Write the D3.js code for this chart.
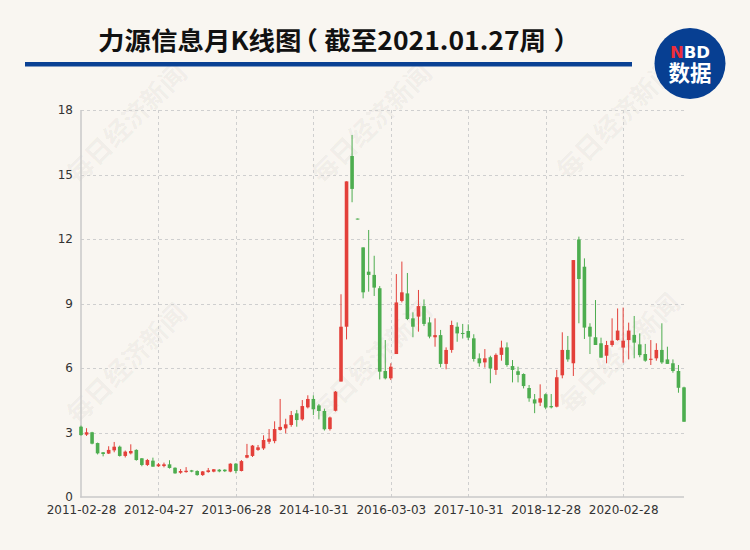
<!DOCTYPE html>
<html><head><meta charset="utf-8">
<script src="https://cdn.jsdelivr.net/npm/d3@7"></script>
<style>
html,body{margin:0;padding:0;background:#f9f6f1;}
svg{display:block;}
.halt{font-feature-settings:"halt" 1;}
</style>
</head><body>
<svg id="chart" width="750" height="550"></svg>
<script>
const dates = [
"2011-02-28","2011-03-31","2011-04-29","2011-05-31","2011-06-30","2011-07-29","2011-08-31","2011-09-30","2011-10-31","2011-11-30","2011-12-30",
"2012-01-31","2012-02-29","2012-03-30","2012-04-27","2012-05-31","2012-06-29","2012-07-31","2012-08-31","2012-09-28","2012-10-31","2012-11-30","2012-12-31",
"2013-01-31","2013-02-28","2013-03-29","2013-04-26","2013-05-31","2013-06-28","2013-07-31","2013-08-30","2013-09-30","2013-10-31","2013-11-29","2013-12-31",
"2014-01-30","2014-02-28","2014-03-31","2014-06-30","2014-07-31","2014-08-29","2014-09-30","2014-10-31","2014-11-28","2014-12-31",
"2015-01-30","2015-02-27","2015-03-31","2015-04-30","2015-05-29","2015-06-05","2015-10-30","2015-11-30","2015-12-31",
"2016-01-29","2016-02-29","2016-03-03","2016-09-30","2016-10-31","2016-11-30","2016-12-30",
"2017-01-26","2017-02-28","2017-03-31","2017-04-28","2017-05-31","2017-06-30","2017-07-31","2017-08-31","2017-09-29","2017-10-31","2017-11-30","2017-12-29",
"2018-01-31","2018-02-28","2018-03-30","2018-04-27","2018-05-31","2018-06-29","2018-07-31","2018-08-31","2018-09-28","2018-10-31","2018-11-30","2018-12-28",
"2019-01-31","2019-02-28","2019-03-29","2019-04-30","2019-05-31","2019-06-28","2019-07-31","2019-08-30","2019-09-30","2019-10-31","2019-11-29","2019-12-31",
"2020-01-23","2020-02-28","2020-03-31","2020-04-30","2020-05-29","2020-06-30","2020-07-31","2020-08-31","2020-09-30","2020-10-30","2020-11-30","2020-12-31","2021-01-27"];

const openP = [3.27,2.90,3.01,2.51,2.08,2.02,2.17,2.34,1.91,2.03,2.19,1.80,1.49,1.69,1.43,1.44,1.52,1.36,1.13,1.16,
1.24,1.21,1.02,1.16,1.18,1.27,1.27,1.18,1.55,1.21,1.83,1.91,2.19,2.26,2.57,2.60,3.12,3.19,3.35,3.89,
3.61,4.17,4.56,4.26,4.00,3.16,4.01,5.37,7.92,15.86,12.95,11.61,10.48,10.33,9.71,5.86,5.52,6.65,9.12,9.47,
8.31,8.39,8.88,8.12,7.43,7.53,6.19,6.84,7.92,7.63,7.72,7.38,6.45,6.26,6.50,5.91,6.61,6.96,6.09,5.85,
5.72,5.07,4.54,4.39,4.78,4.23,4.20,5.66,6.84,6.22,11.98,10.71,7.92,7.43,7.15,6.57,7.07,7.30,6.95,7.30,
7.54,7.10,6.65,6.38,6.45,6.84,6.40,6.22,5.86,5.10];
const closeP = [2.88,3.01,2.48,2.03,2.00,2.19,2.34,1.91,2.11,2.14,1.72,1.49,1.72,1.41,1.52,1.52,1.35,1.10,1.21,1.22,
1.18,1.02,1.19,1.24,1.29,1.19,1.20,1.55,1.21,1.67,1.95,2.39,2.31,2.65,2.71,3.16,3.26,3.38,3.81,3.58,
4.23,4.56,4.08,4.00,3.15,3.70,4.90,7.92,14.68,14.33,12.91,9.52,10.33,9.74,5.83,5.52,6.06,9.05,9.52,8.28,
7.92,8.88,8.05,7.46,7.53,6.19,6.84,8.00,7.61,7.58,7.41,6.42,6.22,6.45,5.98,6.61,6.95,6.14,5.91,5.68,
5.16,4.59,4.35,4.59,4.16,4.17,5.57,6.84,6.40,11.02,10.14,7.88,7.46,7.07,6.48,7.07,7.27,7.74,7.27,7.74,
7.18,6.60,6.34,6.43,6.84,6.26,6.19,5.86,5.08,3.50];
const lowP = [2.85,2.84,2.45,1.98,1.89,2.00,2.08,1.88,1.84,1.98,1.69,1.43,1.44,1.41,1.40,1.38,1.32,1.08,1.08,1.13,
1.15,0.99,0.98,1.13,1.15,1.15,1.16,1.15,1.10,1.19,1.80,1.86,2.15,2.19,2.47,2.50,3.09,2.96,3.27,3.27,
3.55,4.12,3.81,3.61,3.09,3.09,3.98,5.37,7.33,13.71,12.91,9.24,9.55,9.35,5.47,5.47,5.44,6.65,9.05,8.23,
7.43,7.69,7.95,7.38,6.99,6.03,5.94,6.71,7.22,7.37,7.30,6.30,6.06,6.02,5.29,5.68,6.34,6.06,5.33,5.33,
5.05,4.43,3.90,4.23,4.08,4.12,4.17,5.52,6.29,5.63,8.08,7.35,6.65,7.07,6.48,6.22,6.99,7.27,6.25,6.40,
6.45,6.50,6.29,6.14,6.34,6.19,6.19,5.78,4.85,3.50];
const highP = [3.32,3.20,3.03,2.53,2.09,2.36,2.56,2.39,2.16,2.45,2.22,1.81,1.77,1.83,1.58,1.60,1.71,1.38,1.30,1.39,
1.26,1.24,1.21,1.35,1.30,1.30,1.29,1.57,1.58,1.72,2.47,2.42,2.42,2.87,3.16,3.52,4.56,3.64,4.00,4.05,
4.51,4.73,4.73,4.33,4.11,3.74,4.93,9.43,14.68,16.84,12.95,11.61,12.42,11.22,9.81,7.30,6.22,10.37,10.95,10.42,
8.59,9.63,9.19,8.36,8.31,7.77,6.96,8.20,8.12,8.05,8.03,7.57,6.68,6.88,6.57,6.68,7.27,7.19,6.37,6.06,
5.75,5.21,4.79,5.24,4.82,4.79,5.91,7.66,7.49,11.02,12.11,11.10,8.08,9.16,7.41,7.26,8.31,8.77,8.81,8.11,
8.42,7.61,7.12,7.30,7.15,8.08,6.99,6.40,6.14,5.13];

const xTickLabels = ["2011-02-28","2012-04-27","2013-06-28","2014-10-31","2016-03-03","2017-10-31","2018-12-28","2020-02-28"];
const yTicks = [0,3,6,9,12,15,18];
const titleParts = ["力源信息月K线图","（","截至2021.01.27周","）"];
const watermarkText = "每日经济新闻";

const UP = "#e3403a", DOWN = "#4dad4f";
const svg = d3.select("#chart");
svg.append("rect").attr("width",750).attr("height",550).attr("fill","#f9f6f1");

const x = d3.scalePoint().domain(dates).range([81, 684]);
const y = d3.scaleLinear().domain([0, 18]).range([497, 110]);

// watermarks
const wm = svg.append("g");
[[125,122],[370,122],[615,118],[125,362],[370,360],[618,352]].forEach(([cx,cy])=>{
  wm.append("text").attr("transform",`translate(${cx},${cy}) rotate(-45)`)
    .attr("text-anchor","middle").attr("dominant-baseline","central")
    .attr("font-family","'Noto Sans CJK SC'").attr("font-weight",700)
    .attr("font-size",26).attr("fill","#000").attr("fill-opacity",0.05)
    .text(watermarkText);
});

// title
const title = svg.append("text").attr("x",98).attr("y",50)
  .attr("font-family","'Noto Sans CJK SC'").attr("font-weight",700)
  .attr("font-size",25).attr("fill","#111");
title.append("tspan").text(titleParts[0]);
title.append("tspan").attr("class","halt").attr("dx",3).text(titleParts[1]);
title.append("tspan").attr("dx",6).text(titleParts[2]);
title.append("tspan").attr("class","halt").attr("dx",7).text(titleParts[3]);
(function(){
  const w = title.node().getComputedTextLength();
  const target = 452;
  if (w > 0) title.attr("transform",`translate(98,0) scale(${target/w},1) translate(-98,0)`);
})();
svg.append("rect").attr("x",25).attr("y",62).attr("width",607).attr("height",4.5).attr("fill","#0a4194");

// logo
svg.append("circle").attr("cx",690).attr("cy",63.5).attr("r",35.5).attr("fill","#073f92");
const nbd = svg.append("text").attr("x",690).attr("y",58).attr("text-anchor","middle")
  .attr("font-family","'DejaVu Sans'").attr("font-weight",700).attr("font-size",16.5);
nbd.append("tspan").attr("fill","#ee2d3a").text("N");
nbd.append("tspan").attr("fill","#fff").text("BD");
svg.append("text").attr("x",690).attr("y",81).attr("text-anchor","middle")
  .attr("font-family","'Noto Sans CJK SC'").attr("font-weight",700).attr("font-size",21.5)
  .attr("fill","#fff").text("数据");

// grid
const grid = svg.append("g").attr("stroke","#cfcfcf").attr("stroke-width",1).attr("stroke-dasharray","3,3");
yTicks.filter(v=>v>0).forEach(v=>{
  grid.append("line").attr("x1",81).attr("x2",684).attr("y1",Math.round(y(v))+0.5).attr("y2",Math.round(y(v))+0.5);
});
xTickLabels.slice(1).forEach(d=>{
  const xx = Math.round(x(d))+0.5;
  grid.append("line").attr("x1",xx).attr("x2",xx).attr("y1",110).attr("y2",497);
});

// axes
const yAxis = svg.append("g").attr("transform","translate(81,0)")
  .call(d3.axisLeft(y).tickValues(yTicks).tickSize(0).tickPadding(8));
yAxis.select(".domain").remove();
yAxis.selectAll("text").attr("font-family","'DejaVu Sans'").attr("font-size",12).attr("fill","#333");

const xAxis = svg.append("g").attr("transform","translate(0,497)")
  .call(d3.axisBottom(x).tickValues(xTickLabels).tickSize(0).tickPadding(8));
xAxis.select(".domain").remove();
xAxis.selectAll("text").attr("font-family","'DejaVu Sans'").attr("font-size",12).attr("fill","#333");

svg.append("line").attr("x1",81).attr("x2",81).attr("y1",110).attr("y2",497.5).attr("stroke","#c8c8c8").attr("stroke-width",1.5);
svg.append("line").attr("x1",80.25).attr("x2",684).attr("y1",497).attr("y2",497).attr("stroke","#c8c8c8").attr("stroke-width",1.5);

// candles
const data = dates.map((d,i)=>({d, o:openP[i], c:closeP[i], l:lowP[i], h:highP[i]}));
const bw = 3.6;
const cg = svg.append("g");
const candle = cg.selectAll("g").data(data).join("g");
candle.append("line")
  .attr("x1",d=>x(d.d)).attr("x2",d=>x(d.d))
  .attr("y1",d=>y(d.h)).attr("y2",d=>y(d.l))
  .attr("stroke",d=>d.c>=d.o?UP:DOWN).attr("stroke-width",1);
candle.append("rect")
  .attr("x",d=>x(d.d)-bw/2).attr("width",bw)
  .attr("y",d=>y(Math.max(d.o,d.c)))
  .attr("height",d=>Math.max(1, y(Math.min(d.o,d.c))-y(Math.max(d.o,d.c))))
  .attr("fill",d=>d.c>=d.o?UP:DOWN);
</script>
</body></html>
